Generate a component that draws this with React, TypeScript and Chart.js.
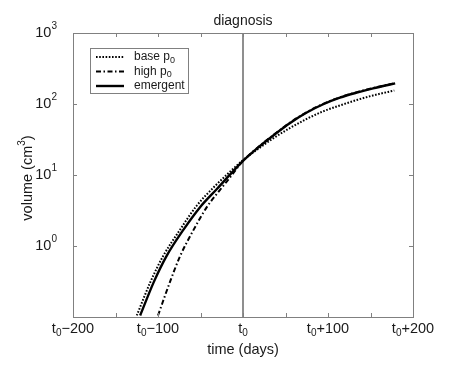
import React, { useEffect, useRef } from "react";
import { Chart, registerables } from "chart.js";
Chart.register(...registerables);

// ---- data ----
const baseDays = [-125, -109, -94, -74, -55, -35, -15, 0, 18, 36, 55, 75, 95, 114, 135, 153, 178];
const baseVolume = [0.105, 0.31, 0.72, 1.7, 3.63, 6.61, 11.2, 16.2, 23.4, 33.1, 45.7, 61.7, 79.4, 95.5, 115, 132, 155];

const highDays = [-100, -86, -74, -58, -43, -27, -13, 0, 18, 36, 55, 75, 95, 114, 135, 153, 179];
const highVolume = [0.105, 0.31, 0.72, 1.7, 3.47, 6.17, 10.0, 15.8, 24.8, 36.7, 54.3, 76.8, 101, 124, 148, 168, 197];

const emergentDays = [-121, -105, -90, -70, -51, -31, -15, 0, 18, 36, 55, 75, 95, 114, 135, 153, 179];
const emergentVolume = [0.105, 0.31, 0.72, 1.7, 3.47, 6.3, 10.2, 15.8, 24.5, 36.3, 53.7, 75.9, 100, 123, 146, 166, 195];

const seriesNames = ["base p", "high p", "emergent"];
const seriesSubs = ["0", "0", ""];

const xTickValues = [-200, -150, -100, -50, 0, 50, 100, 150, 200];
const xLabelValues = [-200, -100, 0, 100, 200];
const xLabelSuffix = ["\u2212200", "\u2212100", "", "+100", "+200"];

const yTickValues = [0.1, 1, 10, 100, 1000];
const yLabelValues = [1, 10, 100, 1000];
const yLabelExps = ["0", "1", "2", "3"];

const diagnosisDay = 0;
const titleText = "diagnosis";
const xTitle = "time (days)";
const yTitle = ["volume (cm", "3", ")"];

const FONT = '"Liberation Sans", Arial, Helvetica, sans-serif';
const TEXT = "#1a1a1a";
const FRAME = "#808080";

type Part = { text: string; size: number; dy: number };

function partsWidth(ctx: CanvasRenderingContext2D, parts: Part[]) {
  let w = 0;
  for (const p of parts) {
    ctx.font = `${p.size}px ${FONT}`;
    w += ctx.measureText(p.text).width;
  }
  return w;
}

function drawParts(ctx: CanvasRenderingContext2D, parts: Part[], x: number, y: number, align: "left" | "center" | "right") {
  const w = partsWidth(ctx, parts);
  let cx = align === "center" ? x - w / 2 : align === "right" ? x - w : x;
  ctx.textAlign = "left";
  ctx.textBaseline = "middle";
  for (const p of parts) {
    ctx.font = `${p.size}px ${FONT}`;
    ctx.fillText(p.text, cx, y + p.dy);
    cx += ctx.measureText(p.text).width;
  }
}

const decorPlugin = {
  id: "decor",
  beforeDatasetsDraw(chart: any) {
    const ctx: CanvasRenderingContext2D = chart.ctx;
    const { top, bottom } = chart.chartArea;
    const x = chart.scales.x.getPixelForValue(diagnosisDay);
    ctx.save();
    ctx.strokeStyle = "#6a6a6a";
    ctx.lineWidth = 1.5;
    ctx.beginPath();
    ctx.moveTo(x, top);
    ctx.lineTo(x, bottom);
    ctx.stroke();
    ctx.restore();
  },
  afterDraw(chart: any) {
    const ctx: CanvasRenderingContext2D = chart.ctx;
    const { left, right, top, bottom } = chart.chartArea;
    const xs = chart.scales.x;
    const ys = chart.scales.y;
    ctx.save();
    // frame top/right
    ctx.strokeStyle = FRAME;
    ctx.lineWidth = 1;
    ctx.beginPath();
    ctx.moveTo(Math.round(left) + 0.5, Math.round(top) + 0.5);
    ctx.lineTo(Math.round(right) + 0.5, Math.round(top) + 0.5);
    ctx.lineTo(Math.round(right) + 0.5, Math.round(bottom) + 0.5);
    ctx.stroke();
    // ticks
    const tl = 4;
    ctx.beginPath();
    for (const v of xTickValues) {
      const px = Math.round(xs.getPixelForValue(v)) + 0.5;
      ctx.moveTo(px, bottom);
      ctx.lineTo(px, bottom - tl);
      ctx.moveTo(px, top);
      ctx.lineTo(px, top + tl);
    }
    for (const v of yTickValues) {
      const py = Math.round(ys.getPixelForValue(v)) + 0.5;
      ctx.moveTo(left, py);
      ctx.lineTo(left + tl, py);
      ctx.moveTo(right, py);
      ctx.lineTo(right - tl, py);
    }
    ctx.stroke();

    ctx.fillStyle = TEXT;
    // x tick labels
    xLabelValues.forEach((v, i) => {
      const px = xs.getPixelForValue(v);
      drawParts(ctx, [
        { text: "t", size: 14.5, dy: 0 },
        { text: "0", size: 10, dy: 4 },
        { text: xLabelSuffix[i], size: 14.5, dy: 0 },
      ], px, bottom + 12, "center");
    });
    // y tick labels
    yLabelValues.forEach((v, i) => {
      const py = ys.getPixelForValue(v);
      drawParts(ctx, [
        { text: "10", size: 14.5, dy: 0 },
        { text: yLabelExps[i], size: 10, dy: -7 },
      ], left - 16, py, "right");
    });
    // title
    drawParts(ctx, [{ text: titleText, size: 14, dy: 0 }], (left + right) / 2, 21, "center");
    // x title
    drawParts(ctx, [{ text: xTitle, size: 14.5, dy: 0 }], (left + right) / 2, bottom + 33, "center");
    // y title
    ctx.save();
    ctx.translate(28, (top + bottom) / 2 + 3);
    ctx.rotate(-Math.PI / 2);
    drawParts(ctx, [
      { text: yTitle[0], size: 14.5, dy: 0 },
      { text: yTitle[1], size: 10, dy: -6 },
      { text: yTitle[2], size: 14.5, dy: 0 },
    ], 0, 0, "center");
    ctx.restore();

    // legend
    const bx = left + 17.5, by = top + 15.5, bw = 98, bh = 45;
    ctx.fillStyle = "#ffffff";
    ctx.fillRect(bx, by, bw, bh);
    ctx.strokeStyle = FRAME;
    ctx.lineWidth = 1;
    ctx.strokeRect(bx, by, bw, bh);
    chart.data.datasets.forEach((ds: any, i: number) => {
      const ry = by + 8.5 + i * 14.5;
      ctx.save();
      ctx.strokeStyle = ds.borderColor;
      ctx.lineWidth = ds.borderWidth;
      ctx.setLineDash(ds.borderDash || []);
      ctx.beginPath();
      ctx.moveTo(bx + 5.5, ry);
      ctx.lineTo(bx + 33.5, ry);
      ctx.stroke();
      ctx.restore();
      ctx.fillStyle = TEXT;
      const parts: Part[] = [{ text: seriesNames[i], size: 12, dy: 0 }];
      if (seriesSubs[i]) parts.push({ text: seriesSubs[i], size: 9, dy: 3.5 });
      drawParts(ctx, parts, bx + 43.5, ry, "left");
    });
    ctx.restore();
  },
};

export default function App() {
  const ref = useRef<HTMLCanvasElement | null>(null);
  useEffect(() => {
    if (!ref.current) return;
    const toPts = (xs: number[], ys: number[]) => xs.map((x, i) => ({ x, y: ys[i] }));
    const chart = new Chart(ref.current, {
      type: "line",
      data: {
        datasets: [
          {
            label: seriesNames[0] + seriesSubs[0],
            data: toPts(baseDays, baseVolume),
            borderColor: "#000000",
            borderWidth: 2,
            borderDash: [1.6, 1.6],
            pointRadius: 0,
            cubicInterpolationMode: "monotone",
          },
          {
            label: seriesNames[1] + seriesSubs[1],
            data: toPts(highDays, highVolume),
            borderColor: "#000000",
            borderWidth: 2,
            borderDash: [5, 2.5, 1.5, 2.5],
            pointRadius: 0,
            cubicInterpolationMode: "monotone",
          },
          {
            label: seriesNames[2],
            data: toPts(emergentDays, emergentVolume),
            borderColor: "#000000",
            borderWidth: 2.4,
            pointRadius: 0,
            cubicInterpolationMode: "monotone",
          },
        ],
      },
      options: {
        animation: false,
        responsive: false,
        events: [],
        layout: { padding: { left: 73, right: 44, top: 33, bottom: 61 } },
        plugins: { legend: { display: false }, tooltip: { enabled: false }, title: { display: false } },
        scales: {
          x: {
            type: "linear",
            min: -200,
            max: 200,
            grid: { display: false, drawTicks: false },
            ticks: { display: false },
            border: { display: true, color: FRAME, width: 1 },
          },
          y: {
            type: "logarithmic",
            min: 0.1,
            max: 1000,
            grid: { display: false, drawTicks: false },
            ticks: { display: false },
            border: { display: true, color: FRAME, width: 1 },
          },
        },
      },
      plugins: [decorPlugin],
    } as any);
    return () => chart.destroy();
  }, []);
  return (
    <div style={{ position: "absolute", left: 0, top: 0, width: 457, height: 378, background: "#fff" }}>
      <canvas ref={ref} width={457} height={378} style={{ display: "block" }} />
    </div>
  );
}
